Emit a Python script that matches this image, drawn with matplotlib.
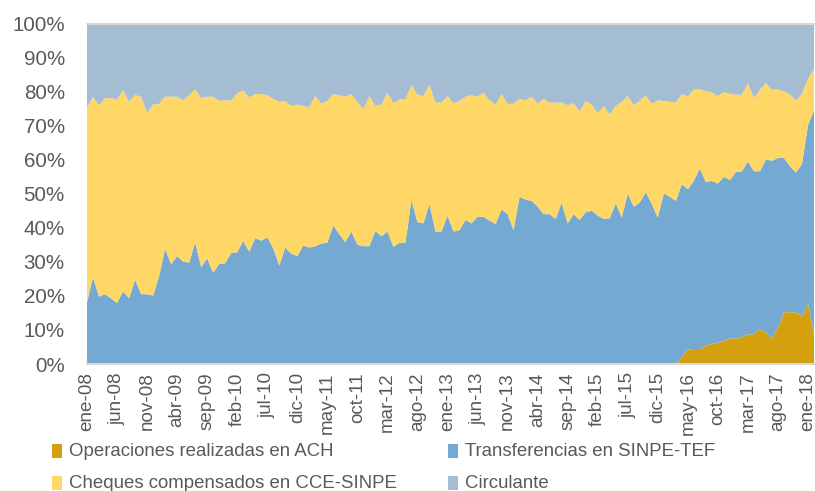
import matplotlib
matplotlib.use("Agg")
import matplotlib.pyplot as plt
from matplotlib.patches import Rectangle
from matplotlib import font_manager as fm
import numpy as np

# ---- data (share of total, %) monthly ene-08 .. feb-18 ----
ach = [0.0] * 99 + [2.0, 4.2, 4.4, 4.4, 5.4, 5.9, 6.2, 6.8, 7.5, 7.5, 7.8, 8.7, 8.7,
                    10.3, 9.3, 7.5, 10.5, 15.2, 15.2, 15.2, 14.0, 17.9, 8.3]

tef = [18.1, 25.5, 19.8, 20.5, 19.3, 17.9, 21.3, 19.3, 24.8, 20.5, 20.5, 20.1,
       25.8, 33.8, 29.3, 31.7, 30.1, 29.7, 35.8, 28.4, 31.1, 26.8, 29.4, 29.6,
       32.6, 32.8, 36.2, 33.0, 37.0, 36.2, 37.2, 34.0, 28.9, 34.2, 32.4, 31.7,
       34.8, 34.2, 34.6, 35.4, 35.6, 40.7, 38.1, 35.8, 38.9, 35.0, 34.6, 34.6,
       39.1, 37.5, 38.9, 34.4, 35.6, 35.6, 48.1, 41.7, 41.3, 47.0, 38.9, 38.9,
       43.6, 38.9, 39.3, 42.3, 41.3, 43.2, 43.2, 42.1, 41.1, 45.4, 44.0, 39.3,
       49.1, 48.3, 47.9, 46.2, 44.0, 44.0, 42.6, 47.4, 41.3, 44.0, 42.3, 44.6,
       45.0, 43.6, 42.6, 42.8, 47.2, 43.0, 50.1, 46.2, 47.4, 50.5, 47.0, 43.0,
       50.1, 49.1, 47.9, 50.8, 47.1, 49.4, 53.0, 48.0, 47.9, 46.8, 48.2, 46.5,
       48.9, 48.8, 50.8, 47.9, 46.3, 50.8, 52.2, 50.0, 45.3, 42.9, 41.0, 44.7,
       52.2, 66.2]

cce = [57.4, 52.9, 56.2, 57.6, 58.8, 59.8, 59.1, 57.7, 54.2, 58.0, 53.2, 56.1,
       50.6, 44.7, 49.2, 46.8, 47.3, 49.2, 44.9, 49.7, 47.4, 51.7, 48.0, 47.8,
       44.8, 46.7, 44.1, 45.3, 42.3, 43.1, 41.7, 43.9, 48.1, 43.0, 43.4, 44.5,
       41.0, 41.2, 44.1, 41.0, 41.6, 38.6, 40.8, 42.7, 40.4, 42.0, 40.2, 44.1,
       36.7, 38.7, 40.8, 42.2, 42.1, 42.1, 33.8, 37.4, 37.4, 35.1, 37.9, 37.9,
       35.1, 37.7, 37.9, 36.2, 37.6, 35.3, 36.5, 35.3, 35.1, 33.9, 32.4, 37.1,
       28.8, 29.1, 30.6, 30.2, 33.9, 32.8, 34.2, 29.4, 34.7, 32.6, 31.9, 32.6,
       31.2, 30.0, 33.2, 30.4, 28.6, 34.0, 28.6, 29.8, 30.0, 28.4, 29.4, 34.5,
       27.1, 27.9, 28.9, 26.5, 27.2, 26.9, 23.3, 26.7, 25.9, 25.7, 24.9, 25.3,
       22.7, 22.5, 23.0, 21.5, 23.9, 22.4, 20.8, 20.2, 19.6, 21.0, 21.2, 20.6,
       13.7, 12.1]

circ = [24.5, 21.6, 24.0, 21.9, 21.9, 22.3, 19.6, 23.0, 21.0, 21.5, 26.3, 23.8,
        23.6, 21.5, 21.5, 21.5, 22.6, 21.1, 19.3, 21.9, 21.5, 21.5, 22.6, 22.6,
        22.6, 20.5, 19.7, 21.7, 20.7, 20.7, 21.1, 22.1, 23.0, 22.8, 24.2, 23.8,
        24.2, 24.6, 21.3, 23.6, 22.8, 20.7, 21.1, 21.5, 20.7, 23.0, 25.2, 21.3,
        24.2, 23.8, 20.3, 23.4, 22.3, 22.3, 18.1, 20.9, 21.3, 17.9, 23.2, 23.2,
        21.3, 23.4, 22.8, 21.5, 21.1, 21.5, 20.3, 22.6, 23.8, 20.7, 23.6, 23.6,
        22.1, 22.6, 21.5, 23.6, 22.1, 23.2, 23.2, 23.2, 24.0, 23.4, 25.8, 22.8,
        23.8, 26.4, 24.2, 26.8, 24.2, 23.0, 21.3, 24.0, 22.6, 21.1, 23.6, 22.5,
        22.8, 23.0, 23.2, 20.7, 21.5, 19.3, 19.3, 19.9, 20.3, 21.3, 20.1, 20.7,
        20.9, 20.9, 17.5, 21.9, 19.5, 17.5, 19.5, 19.3, 19.9, 20.9, 22.6, 20.7,
        16.2, 13.4]

tick_labels = ["ene-08", "jun-08", "nov-08", "abr-09", "sep-09", "feb-10", "jul-10",
               "dic-10", "may-11", "oct-11", "mar-12", "ago-12", "ene-13", "jun-13",
               "nov-13", "abr-14", "sep-14", "feb-15", "jul-15", "dic-15", "may-16",
               "oct-16", "mar-17", "ago-17", "ene-18"]
tick_step = 5

series_names = ["Operaciones realizadas en ACH", "Transferencias en SINPE-TEF",
                "Cheques compensados en CCE-SINPE", "Circulante"]
colors = ["#D4A00E", "#76A9D2", "#FED766", "#A5BDD3"]

# ---- fonts ----
names = {f.name for f in fm.fontManager.ttflist}
base_font = "Liberation Sans" if "Liberation Sans" in names else "DejaVu Sans"
plt.rcParams["font.family"] = [base_font, "DejaVu Sans"]

W, H = 815, 491
fig = plt.figure(figsize=(W / 100, H / 100), dpi=100)
ax = fig.add_axes([87 / W, 1 - 364 / H, (814 - 87) / W, (364 - 23.5) / H])

x = np.arange(len(tef))
ax.stackplot(x, ach, tef, cce, circ, colors=colors, linewidth=0, antialiased=True)

ax.set_xlim(0, len(tef) - 1)
ax.set_ylim(0, 100)
ax.set_yticks(np.arange(0, 101, 10))
ax.set_yticklabels([f"{v}%" for v in range(0, 101, 10)])
ax.set_xticks(np.arange(0, len(tick_labels) * tick_step, tick_step))
ax.set_xticklabels(tick_labels, rotation=90)

txt_col = "#595959"
ax.tick_params(axis="y", length=0, pad=16, labelsize=14.8, labelcolor=txt_col)
ax.tick_params(axis="x", length=0, pad=6, labelsize=13.6, labelcolor=txt_col)
for lab in ax.get_xticklabels():
    lab.set_clip_on(False)

for s in ["left", "right"]:
    ax.spines[s].set_visible(False)
for s in ["top", "bottom"]:
    ax.spines[s].set_color("#D9D9D9")
    ax.spines[s].set_linewidth(1.5)

# ---- legend (manual, two columns) ----
leg_pos = [(52, 451), (448, 451), (52, 483), (448, 483)]
for (px, py), name, col in zip(leg_pos, series_names, colors):
    fig.patches.append(Rectangle((px / W, 1 - (py + 7) / H), 10 / W, 14 / H,
                                 transform=fig.transFigure, facecolor=col,
                                 edgecolor="none"))
    fig.text((px + 17) / W, 1 - py / H, name, ha="left", va="center",
             fontsize=13.4, color=txt_col)

fig.savefig("out.png", dpi=100)
